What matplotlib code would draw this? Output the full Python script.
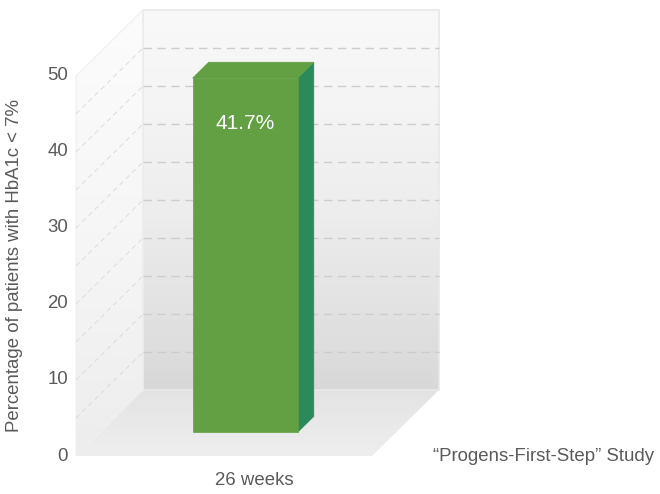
import numpy as np
import matplotlib
matplotlib.use("Agg")
import matplotlib.pyplot as plt
from matplotlib.patches import Polygon
from matplotlib.colors import LinearSegmentedColormap

# ---- data ----
categories = ["26 weeks"]
series_name = "\u201cProgens-First-Step\u201d Study"
value_labels = ["41.7%"]
bar_heights = [46.6]          # bar height as drawn in the reference (value units)
y_ticks = [0, 10, 20, 30, 40, 50]
y_label = "Percentage of patients with HbA1c < 7%"

plt.rcParams['font.family'] = ['Liberation Sans', 'DejaVu Sans']

# ---- geometry (layout) ----
W, H = 660, 494
PX_PER_U = 296.0      # pixels per category-plane width
PX_PER_V = 7.6        # pixels per value unit
X0, X1 = -0.49, 0.51  # plane extent in category units
YMAX = 50
DX = 67.0 / PX_PER_U  # depth shift (x) per unit depth
DY = 66.0 / PX_PER_V  # depth shift (y) per unit depth
D0, D1 = 0.36, 0.60   # bar depth range
BW = 0.355            # bar width

fig = plt.figure(figsize=(W / 100, H / 100), dpi=100)
ax = fig.add_axes([0, 0, 1, 1])
ax.set_xlim(X0 - 76 / PX_PER_U, X0 + (W - 76) / PX_PER_U)
ax.set_ylim(-(H - 456) / PX_PER_V, 456 / PX_PER_V)
ax.axis('off')


def P(u, v, d):
    return (u + d * DX, v + d * DY)


def grad_poly(pts, colors, z, direction='v'):
    poly = Polygon(pts, closed=True, facecolor='none', edgecolor='none', zorder=z)
    ax.add_patch(poly)
    xs = [p[0] for p in pts]
    ys = [p[1] for p in pts]
    cmap = LinearSegmentedColormap.from_list('g', colors)
    if direction == 'v':
        g = np.linspace(0, 1, 256).reshape(-1, 1)
    else:
        g = np.linspace(0, 1, 256).reshape(1, -1)
    im = ax.imshow(g, cmap=cmap, extent=[min(xs), max(xs), min(ys), max(ys)],
                   origin='lower', aspect='auto', zorder=z, interpolation='bilinear')
    im.set_clip_path(poly)


# back wall (colors listed bottom -> top)
back = [P(X0, 0, 1), P(X1, 0, 1), P(X1, YMAX, 1), P(X0, YMAX, 1)]
grad_poly(back, ['#d8d8d8', '#e4e4e4', '#eeeeee', '#f4f4f4', '#f9f9f9'], 1)
ax.add_patch(Polygon(back, closed=True, facecolor='none', edgecolor='#e8e8e8', lw=1.2, zorder=1.5))
# left wall
left = [P(X0, 0, 0), P(X0, 0, 1), P(X0, YMAX, 1), P(X0, YMAX, 0)]
grad_poly(left, ['#ededed', '#f6f6f6', '#fcfcfc'], 1)
ax.add_patch(Polygon(left, closed=True, facecolor='none', edgecolor='#f0f0f0', lw=0.8, zorder=1.5))
# floor
floor = [P(X0, 0, 0), P(X1, 0, 0), P(X1, 0, 1), P(X0, 0, 1)]
grad_poly(floor, ['#eeeeee', '#e9e9e9', '#e3e3e3'], 1)

# grid lines
for v in range(5, YMAX, 5):
    a, b = P(X0, v, 1), P(X1, v, 1)
    ax.plot([a[0], b[0]], [a[1], b[1]], color='#cdcdcd', lw=1, dashes=(6, 4), zorder=2)
    a, b = P(X0, v, 0), P(X0, v, 1)
    ax.plot([a[0], b[0]], [a[1], b[1]], color='#dcdcdc', lw=0.7, dashes=(5, 4), zorder=2)

# bars
for i, (cat, h, lab) in enumerate(zip(categories, bar_heights, value_labels)):
    ul, ur = i - BW / 2, i + BW / 2
    front = [P(ul, 0, D0), P(ur, 0, D0), P(ur, h, D0), P(ul, h, D0)]
    top = [P(ul, h, D0), P(ur, h, D0), P(ur, h, D1), P(ul, h, D1)]
    side = [P(ur, 0, D0), P(ur, 0, D1), P(ur, h, D1), P(ur, h, D0)]
    ax.add_patch(Polygon(side, closed=True, facecolor='#2a8a5b', edgecolor='#2a8a5b', lw=0.5, zorder=3))
    ax.add_patch(Polygon(top, closed=True, facecolor='#62a043', edgecolor='#62a043', lw=0.5, zorder=3))
    ax.add_patch(Polygon(front, closed=True, facecolor='#62a043', edgecolor='#62a043', lw=0.5, zorder=3))
    cx, cy = P(i, h, D0)
    ax.annotate(lab, (cx, cy), xytext=(0, -45 * 0.72), textcoords='offset points',
                ha='center', va='center', color='white', fontsize=15, zorder=4)
    lx, ly = P(i, 0, 0.5)
    ax.text(lx, -(480 - 456) / PX_PER_V, cat, ha='center', va='center',
            color='#5a5a5a', fontsize=13.4)

# y tick labels
for t in y_ticks:
    ax.text(X0 - 8 / PX_PER_U, t, str(t), ha='right', va='center',
            color='#5a5a5a', fontsize=13.4)

# y axis label
ax.text(X0 - 61 / PX_PER_U, YMAX / 2, y_label, rotation=90, ha='center', va='center',
        color='#5a5a5a', fontsize=13.4)

# series name
ax.text(X0 + (433 - 76) / PX_PER_U, 0, series_name, ha='left', va='center',
        color='#5a5a5a', fontsize=13.4)

fig.savefig('out.png', dpi=100)
